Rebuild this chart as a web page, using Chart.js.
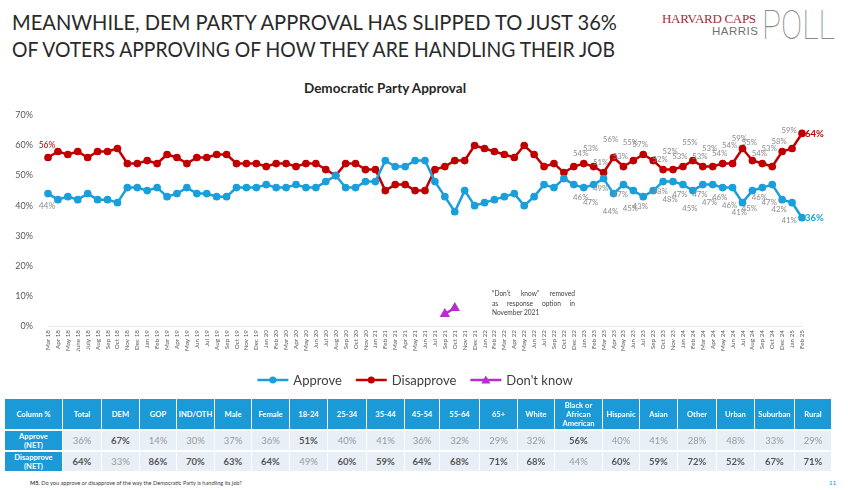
<!DOCTYPE html>
<html><head><meta charset="utf-8">
<script src="https://cdn.jsdelivr.net/npm/chart.js@4.4.1/dist/chart.umd.min.js"></script>
<style>
body{margin:0;width:848px;height:490px;background:#fff;position:relative;overflow:hidden;font-family:Lato,"Open Sans",sans-serif;}
.tl{position:absolute;left:12px;font-size:21px;color:#2a2a2a;white-space:nowrap;transform-origin:0 0;line-height:1;}
#chartTitle{position:absolute;left:0;width:770px;top:80px;text-align:center;font-weight:bold;font-size:13.5px;color:#262626;}
#logo1{position:absolute;left:662px;top:11px;font-family:"Liberation Serif","DejaVu Serif",serif;font-size:13px;color:#a8283a;letter-spacing:-0.3px;}
#logo2{position:absolute;left:712px;top:25px;font-family:"Liberation Sans",sans-serif;font-size:11.5px;color:#707070;letter-spacing:0.5px;}
#logo3{position:absolute;left:762px;top:4px;font-family:Roboto,"Liberation Sans",sans-serif;font-weight:100;font-size:40px;color:#8a8a8a;transform-origin:0 0;white-space:nowrap;line-height:1.1;}
#note{position:absolute;left:492px;top:289px;width:83px;font-size:6.6px;line-height:9.5px;color:#404040;}
#note div{text-align:justify;text-align-last:justify;white-space:nowrap;}
#note div.last{text-align-last:left;}
canvas{position:absolute;left:0;top:95px;}
table{position:absolute;left:4px;top:397px;border-collapse:separate;border-spacing:1px 2px;table-layout:fixed;}
td{padding:0;text-align:center;vertical-align:middle;overflow:hidden;}
.hd{background:#1b9ad7;color:#fff;font-weight:bold;font-size:7.6px;line-height:9px;height:30px;}
.rl{background:#1b9ad7;color:#fff;font-weight:bold;font-size:7.6px;line-height:9px;height:19px;}
.dc{background:#e9eff7;font-size:9.5px;color:#9a9a9a;height:19px;}
.dc.b{color:#555;font-weight:bold;}
#foot{position:absolute;left:30px;top:479px;font-size:5.6px;color:#404040;}
#pg{position:absolute;left:829px;top:479px;font-size:6.5px;color:#1b9ad7;}
</style>
</head>
<body>
<div class="tl" id="t1" style="top:11px">MEANWHILE, DEM PARTY APPROVAL HAS SLIPPED TO JUST 36%</div>
<div class="tl" id="t2" style="top:38px">OF VOTERS APPROVING OF HOW THEY ARE HANDLING THEIR JOB</div>
<div id="logo1">HARVARD CAPS</div>
<div id="logo2">HARRIS</div>
<div id="logo3">POLL</div>
<div id="chartTitle">Democratic Party Approval</div>
<canvas id="c" width="848" height="300"></canvas>
<div id="note"><div style="text-align:justify">“Don't know” removed</div><div>as response option in</div><div class="last">November 2021</div></div>
<table id="tbl"></table>
<div id="foot"><b>M5.</b> Do you approve or disapprove of the way the Democratic Party is handling its job?</div>
<div id="pg">11</div>
<script>
// ---------- DATA ----------
const months = [
 "Mar 18","Apr 18","May 18","June 18","July 18","Aug 18","Sep 18","Oct 18","Nov 18","Dec 18",
 "Jan 19","Feb 19","Mar 19","Apr 19","May 19","Jun 19","Jul 19","Aug 19","Sep 19","Oct 19","Nov 19","Dec 19",
 "Jan 20","Feb 20","Mar 20","Apr 20","May 20","Jun 20","Jul 20","Aug 20","Sep 20","Oct 20","Nov 20",
 "Jan 21","Feb 21","Mar 21","Apr 21","May 21","Jun 21","Jul 21","Sep 21","Oct 21","Nov 21","Dec 21",
 "Jan 22","Feb 22","Mar 22","Apr 22","May 22","Jun 22","Jul 22","Sep 22","Oct 22","Dec 22",
 "Jan 23","Feb 23","Mar 23","Apr 23","May 23","Jun 23","Jul 23","Sep 23","Oct 23","Nov 23",
 "Jan 24","Feb 24","Mar 24","Apr 24","May 24","Jun 24","Jul 24","Aug 24","Sep 24","Oct 24","Dec 24",
 "Jan 25","Feb 25"
];
const approve = [
 44,42,43,42,44,42,42,41,46,46,
 45,46,43,44,46,44,44,43,43,46,
 46,46,47,46,46,47,46,46,48,50,
 46,46,48,48,55,53,53,55,55,48,
 43,38,45,40,41,42,43,44,40,43,
 47,46,49,47,46,47,49,44,47,45,
 43,45,48,48,47,45,47,47,46,46,
 41,45,46,47,42,41,36
];
const disapprove = [
 56,58,57,58,56,58,58,59,54,54,
 55,54,57,56,54,56,56,57,57,54,
 54,54,53,54,54,53,54,54,52,50,
 54,54,52,52,45,47,47,45,45,52,
 53,55,55,60,59,58,57,56,60,57,
 53,54,51,53,54,53,51,56,53,55,
 57,55,52,52,53,55,53,53,54,54,
 59,55,54,53,58,59,64
];
const dontKnow = months.map(()=>null);
dontKnow[40] = 4; dontKnow[41] = 6;
const seriesNames = ["Approve","Disapprove","Don't know"];

const tableHeaders = ["Column %","Total","DEM","GOP","IND/OTH","Male","Female","18-24","25-34","35-44","45-54","55-64","65+","White","Black or African American","Hispanic","Asian","Other","Urban","Suburban","Rural"];
const tableApprove    = [36,67,14,30,37,36,51,40,41,36,32,29,32,56,40,41,28,48,33,29];
const tableDisapprove = [64,33,86,70,63,64,49,60,59,64,68,71,68,44,60,59,72,52,67,71];
const rowNames = ["Approve<br>(NET)","Disapprove<br>(NET)"];

// ---------- TEXT FIT ----------
function fitW(id,w){const e=document.getElementById(id);const cw=e.getBoundingClientRect().width;e.style.transform='scaleX('+(w/cw)+')';}
fitW('t1',605);fitW('t2',603);fitW('logo3',73);

// ---------- TABLE ----------
const colW=[57,38,37,36,37,36,37,37,38,37,34,39,37,36,47,36,37,38,37,39,36];
const tbl=document.getElementById('tbl');
let html='<colgroup>'+colW.map(w=>'<col style="width:'+w+'px">').join('')+'</colgroup>';
html+='<tr>'+tableHeaders.map(h=>'<td class="hd">'+h+'</td>').join('')+'</tr>';
[tableApprove,tableDisapprove].forEach((row,ri)=>{
  html+='<tr><td class="rl">'+rowNames[ri]+'</td>'+row.map(v=>'<td class="dc'+(v>=50?' b':'')+'">'+v+'%</td>').join('')+'</tr>';
});
tbl.innerHTML=html;

// ---------- CHART ----------
const BLUE='#1a9fdb', RED='#c00000', PURPLE='#b52fc9', GREY='#8c8c8c';
const labelFrom=54, unlabelled=[61];

const pointLabels={
  id:'pointLabels',
  afterDatasetsDraw(chart){
    const ctx=chart.ctx, mA=chart.getDatasetMeta(0).data, mD=chart.getDatasetMeta(1).data;
    const n=approve.length;
    ctx.save();
    ctx.textAlign='center';ctx.textBaseline='middle';
    ctx.font='8.5px Lato';
    ctx.fillStyle=RED;ctx.fillText(disapprove[0]+'%',mD[0].x-1,mD[0].y-12);
    ctx.fillStyle=GREY;ctx.fillText(approve[0]+'%',mA[0].x-1,mA[0].y+13);
    ctx.font='7.8px Lato';
    for(let i=labelFrom;i<n-1;i++){
      if(unlabelled.includes(i)) continue;
      const alt=(i%2)*8;
      ctx.fillStyle=GREY;
      ctx.fillText(disapprove[i]+'%',mD[i].x-3,mD[i].y-10-alt);
      ctx.fillText(approve[i]+'%',mA[i].x-3,mA[i].y+10+alt);
    }
    ctx.font='bold 9.5px Lato';ctx.textAlign='left';
    ctx.fillStyle=RED;ctx.fillText(disapprove[n-1]+'%',mD[n-1].x+3,mD[n-1].y);
    ctx.fillStyle=BLUE;ctx.fillText(approve[n-1]+'%',mA[n-1].x+3,mA[n-1].y);
    ctx.restore();
  }
};
const lineLegend={
  id:'lineLegend',
  afterDraw(chart){
    const ctx=chart.ctx, ds=chart.data.datasets;
    ctx.save();
    ctx.font='13px Lato';ctx.textBaseline='middle';
    const lineW=31, gap=5, sep=14;
    const widths=ds.map(d=>lineW+gap+ctx.measureText(d.label).width);
    const total=widths.reduce((a,b)=>a+b,0)+sep*(ds.length-1);
    let x=415-total/2; const y=chart.height-15;
    ds.forEach((d,i)=>{
      ctx.strokeStyle=d.borderColor;ctx.lineWidth=2.5;
      ctx.beginPath();ctx.moveTo(x,y);ctx.lineTo(x+lineW,y);ctx.stroke();
      ctx.fillStyle=d.borderColor;ctx.beginPath();
      const cx=x+lineW/2;
      if(d.pointStyle==='triangle'){ctx.moveTo(cx,y-4.5);ctx.lineTo(cx+4.5,y+3.5);ctx.lineTo(cx-4.5,y+3.5);ctx.closePath();}
      else ctx.arc(cx,y,3.5,0,Math.PI*2);
      ctx.fill();
      ctx.fillStyle='#404040';ctx.fillText(d.label,x+lineW+gap,y+0.5);
      x+=widths[i]+sep;
    });
    ctx.restore();
  }
};

new Chart(document.getElementById('c'),{
  type:'line',
  data:{labels:months,datasets:[
    {label:seriesNames[0],data:approve,borderColor:BLUE,backgroundColor:BLUE,pointBackgroundColor:BLUE,pointBorderColor:BLUE,borderWidth:2.5,pointRadius:2.6,pointStyle:'circle'},
    {label:seriesNames[1],data:disapprove,borderColor:RED,backgroundColor:RED,pointBackgroundColor:RED,pointBorderColor:RED,borderWidth:2.5,pointRadius:2.6,pointStyle:'circle'},
    {label:seriesNames[2],data:dontKnow,borderColor:PURPLE,backgroundColor:PURPLE,pointBackgroundColor:PURPLE,pointBorderColor:PURPLE,borderWidth:2.5,pointRadius:3.5,pointStyle:'triangle',spanGaps:false}
  ]},
  options:{
    responsive:false,animation:false,
    layout:{padding:{left:0,right:46,top:18,bottom:39}},
    plugins:{legend:{display:false},title:{display:false},tooltip:{enabled:false}},
    scales:{
      x:{grid:{display:false,drawTicks:false},border:{display:true,color:'#e8e8e8',width:1},
         ticks:{autoSkip:false,maxRotation:90,minRotation:90,font:{size:6.3,family:'Lato'},color:'#595959',padding:4},
         afterFit(s){s.height=30;}},
      y:{min:0,max:70,grid:{display:false,drawTicks:false},border:{display:false},
         ticks:{stepSize:10,callback:v=>v+'%',font:{size:9,family:'Lato'},color:'#595959',padding:15},
         afterFit(s){s.width=48;}}
    }
  },
  plugins:[pointLabels,lineLegend]
});
</script>
</body></html>
